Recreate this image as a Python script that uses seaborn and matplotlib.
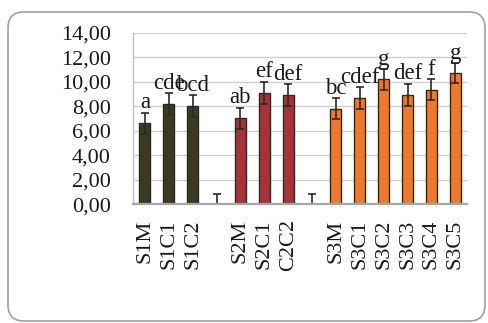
import matplotlib
matplotlib.use("Agg")
import matplotlib.pyplot as plt
from matplotlib.patches import FancyBboxPatch
from matplotlib.transforms import IdentityTransform
import seaborn as sns
import pandas as pd

# Treatments (two empty slots separate the three series)
categories = ["S1M", "S1C1", "S1C2", "gap1", "S2M", "S2C1", "C2C2", "gap2",
              "S3M", "S3C1", "S3C2", "S3C3", "S3C4", "S3C5"]
tick_labels = ["S1M", "S1C1", "S1C2", "", "S2M", "S2C1", "C2C2", "",
               "S3M", "S3C1", "S3C2", "S3C3", "S3C4", "S3C5"]
groups = ["S1", "S1", "S1", "S1", "S2", "S2", "S2", "S2",
          "S3", "S3", "S3", "S3", "S3", "S3"]
means = [6.6, 8.15, 8.02, 0.0, 7.03, 9.12, 8.9, 0.0,
         7.8, 8.65, 10.2, 8.95, 9.36, 10.7]
errors = [0.88, 0.9, 0.88, 0.82, 0.87, 0.9, 0.9, 0.82,
          0.87, 0.89, 0.84, 0.9, 0.86, 0.82]
letters = ["a", "cde", "bcd", "", "ab", "ef", "def", "",
           "bc", "cdef", "g", "def", "f", "g"]

palette = {"S1": "#3c3a21", "S2": "#a6333a", "S3": "#f1782a"}

df = pd.DataFrame({"cat": categories, "val": means, "grp": groups})

sns.set_style("white")
plt.rcParams["font.family"] = ["Liberation Serif", "DejaVu Serif"]

fig = plt.figure(figsize=(4.88, 3.23), dpi=100)
ax = fig.add_axes([0.2725, 0.368, 0.685, 0.53])

sns.barplot(data=df, x="cat", y="val", hue="grp", order=categories,
            palette=palette, saturation=1, dodge=False, width=0.46,
            edgecolor="#2a2a2a", linewidth=1.0, legend=False, ax=ax,
            zorder=3)

ax.errorbar(range(len(categories)), means, yerr=errors, fmt="none",
            ecolor="#2a2a2a", elinewidth=1.2, capsize=3.2, capthick=1.2,
            zorder=4)

for i, (m, e, lab) in enumerate(zip(means, errors, letters)):
    if lab:
        ax.text(i, m + e + 0.35, lab, ha="center", va="baseline",
                fontsize=16.5, color="#1a1a1a", zorder=5)

ax.set_ylim(0, 14)
ax.set_xlim(-0.5, len(categories) - 0.5)
ax.set_yticks([0, 2, 4, 6, 8, 10, 12, 14])
ax.set_yticklabels([f"{v:.2f}".replace(".", ",") for v in range(0, 15, 2)],
                   fontsize=16, color="#1a1a1a")
ax.set_xticks(range(len(categories)))
ax.set_xticklabels(tick_labels, rotation=90, fontsize=16, color="#1a1a1a",
                   va="top")
ax.tick_params(axis="y", length=0, pad=16)
ax.tick_params(axis="x", length=0, pad=11)
ax.set_xlabel("")
ax.set_ylabel("")

ax.yaxis.grid(True, color="#d0d0d0", linewidth=1.0, zorder=0)
ax.set_axisbelow(True)
for side in ["top", "right"]:
    ax.spines[side].set_visible(False)
ax.spines["left"].set_color("#bfbfbf")
ax.spines["left"].set_linewidth(1.0)
ax.spines["bottom"].set_color("#a6a6a6")
ax.spines["bottom"].set_linewidth(1.6)
ax.spines["bottom"].set_zorder(6)

# Rounded frame around the chart area
frame = FancyBboxPatch((8, 2), 477, 309,
                       boxstyle="round,pad=0,rounding_size=16",
                       transform=IdentityTransform(), fill=False,
                       edgecolor="#a0a0a0", linewidth=1.2)
fig.patches.append(frame)

fig.savefig("out.png", dpi=100)
